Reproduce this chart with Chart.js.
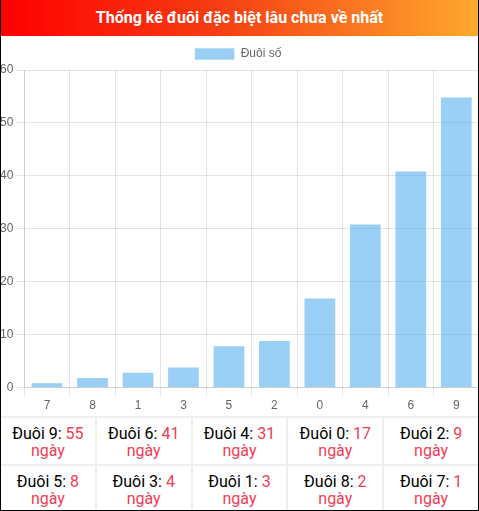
<!DOCTYPE html>
<html>
<head>
<meta charset="utf-8">
<script src="https://cdn.jsdelivr.net/npm/chart.js"></script>
<style>
  html, body { margin: 0; padding: 0; background: #fff; overflow: hidden; }
  body { width: 479px; height: 511px; font-family: Roboto, sans-serif; }
  .box { position: relative; width: 477px; height: 510px; border-left: 1px solid #000; border-right: 1px solid #000; border-bottom: 1px solid #000; overflow: hidden; }
  .head { height: 36px; line-height: 36px; text-align: center; color: #fff; font-weight: bold; font-size: 16px;
          background: linear-gradient(90deg, #f00 0%, #f53d12 45%, #ffa92e 100%); }
  .wrap { position: relative; height: 380px; overflow: hidden; }
  .wrap div { position: absolute; left: -4px; top: 2px; width: 482px; height: 378px; }
  .tbl { display: grid; grid-template-columns: repeat(5, 1fr); gap: 2px; background: #eee; padding-top: 2px; }
  .tbl div { background: #fff; text-align: center; font-size: 16px; line-height: 17px; padding: 7px 0 5px; }
  .tbl span, .tbl b { color: #f23d54; font-weight: normal; }
</style>
</head>
<body>
<div class="box">
  <div class="head">Thống kê đuôi đặc biệt lâu chưa về nhất</div>
  <div class="wrap"><div><canvas id="c"></canvas></div></div>
  <div class="tbl" id="t"></div>
</div>
<script>
var labels = ["7", "8", "1", "3", "5", "2", "0", "4", "6", "9"];
var days = [1, 2, 3, 4, 8, 9, 17, 31, 41, 55];
var tableOrder = ["9", "6", "4", "0", "2", "5", "3", "1", "8", "7"];

var ctx = document.getElementById("c").getContext("2d");
new Chart(ctx, {
  type: "bar",
  data: {
    labels: labels,
    datasets: [
      {
        label: "Đuôi số",
        data: days,
        backgroundColor: "rgba(54, 162, 235, 0.5)",
        borderColor: "rgba(255, 255, 255, 0.6)",
        borderWidth: 1
      }
    ]
  },
  options: {
    responsive: true,
    maintainAspectRatio: false,
    animation: false,
    layout: { padding: 0 },
    plugins: {
      legend: { labels: { color: "#666", font: { size: 12 } } }
    },
    scales: {
      y: {
        min: 0,
        max: 60,
        ticks: { stepSize: 10, color: "#666" }
      },
      x: {
        ticks: { color: "#666" }
      }
    }
  }
});

var t = document.getElementById("t");
tableOrder.forEach(function (k) {
  var v = days[labels.indexOf(k)];
  var d = document.createElement("div");
  d.innerHTML = "Đuôi " + k + ": <b>" + v + "</b><br><span>ngày</span>";
  t.appendChild(d);
});
</script>
</body>
</html>
